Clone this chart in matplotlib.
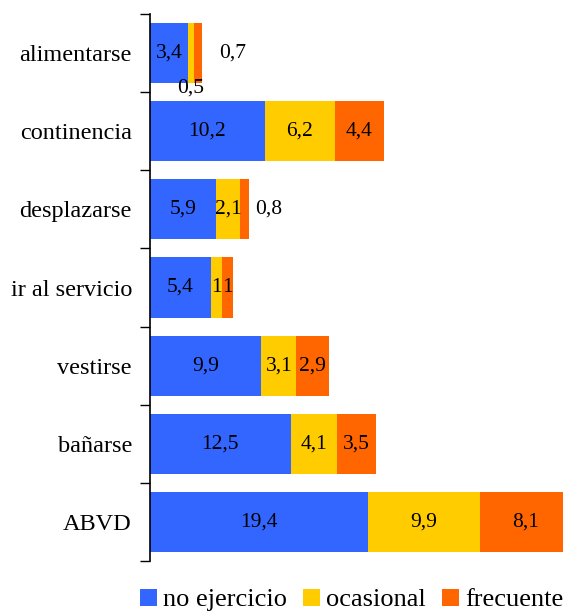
import matplotlib
matplotlib.use("Agg")
import matplotlib.pyplot as plt
from matplotlib.patches import Patch

plt.rcParams['font.family'] = ['Liberation Serif', 'DejaVu Serif']

categories = ["alimentarse", "continencia", "desplazarse", "ir al servicio",
              "vestirse", "bañarse", "ABVD"]
series_names = ["no ejercicio", "ocasional", "frecuente"]
no_ejercicio = [3.4, 10.2, 5.9, 5.4, 9.9, 12.5, 19.4]
ocasional = [0.5, 6.2, 2.1, 1.0, 3.1, 4.1, 9.9]
frecuente = [0.7, 4.4, 0.8, 1.0, 2.9, 3.5, 8.1]
colors = ["#3366FF", "#FFCC00", "#FF6600"]

W, H = 563, 612
fig = plt.figure(figsize=(W / 100, H / 100), dpi=100)
px_per_unit = 11.26
xmax = 40
ax = fig.add_axes([150 / W, 51 / H, xmax * px_per_unit / W, 547 / H])

series = [no_ejercicio, ocasional, frecuente]
ypos = list(range(len(categories)))
left = [0.0] * len(categories)
for vals, col in zip(series, colors):
    ax.barh(ypos, vals, left=left, height=0.77, color=col, edgecolor='none')
    left = [l + v for l, v in zip(left, vals)]

def fmt(v):
    s = f"{v:.1f}".replace(".", ",")
    return s[:-2] if s.endswith(",0") else s

# value labels: centred in their segment, with a few moved outside thin segments
outside = {(0, 1): ("below", 0.0), (0, 2): ("right", 2.7), (2, 2): ("right", 1.7)}
for i in ypos:
    start = 0.0
    for k, vals in enumerate(series):
        v = vals[i]
        cx, cy = start + v / 2, i
        if (i, k) in outside:
            mode, off = outside[(i, k)]
            if mode == "below":
                cy = i + 0.45
            else:
                cx = start + v + off
        ax.text(cx, cy, fmt(v), ha='center', va='center', fontsize=15.5, color='black')
        start += v

ax.set_xlim(0, xmax)
ax.set_ylim(len(categories) - 0.5, -0.5)
ax.set_yticks(ypos)
ax.set_yticklabels(categories, fontsize=17.5)
ax.set_yticks([y - 0.5 for y in ypos] + [len(categories) - 0.5], minor=True)
ax.tick_params(axis='y', which='major', length=0, pad=13)
ax.tick_params(axis='y', which='minor', length=7, width=1, direction='out')
ax.set_xticks([])
for s in ['top', 'right', 'bottom']:
    ax.spines[s].set_visible(False)
ax.spines['left'].set_linewidth(1.2)

handles = [Patch(facecolor=c, edgecolor='none') for c in colors]
fig.legend(handles, series_names, loc='center', bbox_to_anchor=(0.625, 12 / H),
           ncol=3, frameon=False, fontsize=19, handlelength=0.63, handleheight=0.63,
           handletextpad=0.25, columnspacing=0.6, borderpad=0, borderaxespad=0)

fig.savefig("out.png", dpi=100)
